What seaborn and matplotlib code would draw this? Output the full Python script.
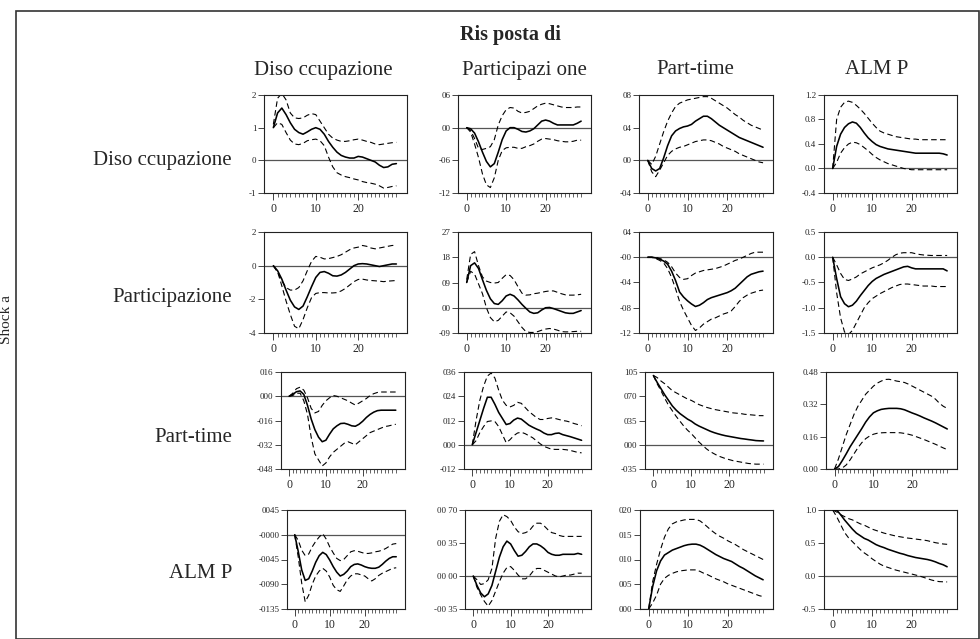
import numpy as np
import matplotlib
matplotlib.use("Agg")
import matplotlib.pyplot as plt
from matplotlib.ticker import FixedLocator, FixedFormatter
from matplotlib.patches import Rectangle
import seaborn as sns

# ========== stile ==========
sns.set_style("ticks")
plt.rcParams['font.family'] = ['Liberation Serif', 'DejaVu Serif']

# ========== dati (risposte a impulso, orizzonte 0-29) ==========
variabili_col = ["Diso ccupazione", "Participazi one", "Part-time", "ALM P"]
variabili_riga = ["Diso ccupazione", "Participazione", "Part-time", "ALM P"]

# shock Disoccupazione
dis_dis = [1.0, 1.45, 1.6, 1.4, 1.15, 0.95, 0.85, 0.8, 0.87, 0.95, 1.0, 0.95, 0.8, 0.58, 0.4,
           0.25, 0.15, 0.1, 0.07, 0.07, 0.12, 0.1, 0.05, 0.0, -0.05, -0.15, -0.22, -0.2, -0.12, -0.1]
dis_dis_su = [1.1, 1.9, 2.05, 1.85, 1.45, 1.3, 1.28, 1.3, 1.38, 1.43, 1.4, 1.2, 1.0, 0.8, 0.68,
              0.62, 0.58, 0.58, 0.6, 0.63, 0.65, 0.62, 0.58, 0.55, 0.5, 0.48, 0.5, 0.52, 0.54, 0.55]
dis_dis_giu = [1.0, 1.15, 1.1, 0.85, 0.62, 0.5, 0.48, 0.52, 0.6, 0.63, 0.65, 0.6, 0.45, 0.1, -0.2,
               -0.38, -0.45, -0.5, -0.53, -0.57, -0.6, -0.65, -0.68, -0.7, -0.73, -0.78, -0.85, -0.83, -0.8, -0.78]

dis_par = [0.0, -0.02, -0.1, -0.26, -0.45, -0.62, -0.72, -0.66, -0.45, -0.22, -0.06, 0.0, 0.0, -0.03, -0.07,
           -0.08, -0.06, -0.02, 0.05, 0.12, 0.14, 0.12, 0.08, 0.05, 0.05, 0.05, 0.05, 0.05, 0.08, 0.12]
dis_par_su = [0.0, -0.05, -0.2, -0.38, -0.4, -0.38, -0.35, -0.22, 0.05, 0.22, 0.33, 0.37, 0.36, 0.3, 0.27,
              0.28, 0.3, 0.35, 0.4, 0.43, 0.45, 0.44, 0.42, 0.4, 0.38, 0.37, 0.37, 0.37, 0.38, 0.38]
dis_par_giu = [0.0, -0.08, -0.3, -0.55, -0.85, -1.05, -1.1, -0.92, -0.6, -0.42, -0.37, -0.36, -0.36, -0.38, -0.38,
               -0.35, -0.33, -0.3, -0.25, -0.21, -0.2, -0.21, -0.22, -0.24, -0.25, -0.26, -0.26, -0.25, -0.23, -0.23]

dis_pt = [0.0, -0.01, -0.013, -0.01, 0.003, 0.018, 0.03, 0.036, 0.039, 0.041, 0.042, 0.044, 0.048, 0.051, 0.054,
          0.054, 0.051, 0.047, 0.043, 0.04, 0.037, 0.034, 0.031, 0.028, 0.026, 0.024, 0.022, 0.02, 0.018, 0.016]
dis_pt_su = [0.0, -0.005, 0.005, 0.02, 0.035, 0.048, 0.058, 0.066, 0.07, 0.072, 0.074, 0.075, 0.076, 0.077, 0.078,
             0.078, 0.076, 0.073, 0.07, 0.067, 0.064, 0.06, 0.056, 0.053, 0.049, 0.046, 0.043, 0.041, 0.039, 0.037]
dis_pt_giu = [0.0, -0.014, -0.02, -0.012, -0.003, 0.006, 0.011, 0.014, 0.016, 0.017, 0.019, 0.021, 0.023, 0.024, 0.025,
              0.025, 0.024, 0.022, 0.02, 0.017, 0.015, 0.013, 0.011, 0.008, 0.006, 0.004, 0.002, 0.0, -0.002, -0.003]

dis_almp = [0.0, 0.36, 0.56, 0.67, 0.73, 0.76, 0.74, 0.67, 0.58, 0.5, 0.44, 0.39, 0.36, 0.34, 0.32,
            0.31, 0.3, 0.29, 0.28, 0.27, 0.26, 0.25, 0.25, 0.25, 0.25, 0.25, 0.25, 0.25, 0.24, 0.22]
dis_almp_su = [0.0, 0.8, 1.0, 1.08, 1.1, 1.08, 1.03, 0.97, 0.9, 0.82, 0.74, 0.67, 0.61, 0.58, 0.56,
               0.54, 0.52, 0.51, 0.5, 0.49, 0.48, 0.48, 0.47, 0.47, 0.47, 0.47, 0.47, 0.47, 0.47, 0.47]
dis_almp_giu = [0.0, 0.1, 0.25, 0.34, 0.4, 0.43, 0.42, 0.39, 0.34, 0.29, 0.23, 0.18, 0.14, 0.11, 0.08,
                0.06, 0.04, 0.02, 0.0, -0.01, -0.02, -0.02, -0.02, -0.02, -0.02, -0.02, -0.02, -0.02, -0.02, -0.02]

# shock Participazione
par_dis = [0.0, -0.3, -0.8, -1.45, -2.05, -2.45, -2.6, -2.4, -1.85, -1.25, -0.7, -0.4, -0.35, -0.45, -0.6,
           -0.62, -0.55, -0.4, -0.2, 0.0, 0.1, 0.12, 0.1, 0.05, 0.0, -0.05, 0.0, 0.05, 0.1, 0.1]
par_dis_su = [0.0, -0.4, -0.9, -1.3, -1.45, -1.45, -1.3, -0.9, -0.3, 0.25, 0.55, 0.5, 0.4, 0.42, 0.48,
              0.55, 0.65, 0.8, 0.95, 1.05, 1.1, 1.2, 1.15, 1.05, 1.0, 1.05, 1.1, 1.15, 1.2, 1.2]
par_dis_giu = [0.0, -0.35, -1.2, -2.1, -2.9, -3.6, -3.75, -3.2, -2.5, -1.9, -1.65, -1.6, -1.6, -1.62, -1.62,
               -1.6, -1.5, -1.35, -1.15, -0.95, -0.82, -0.8, -0.85, -0.88, -0.9, -0.92, -0.95, -0.92, -0.9, -0.88]

par_par = [0.09, 0.15, 0.16, 0.14, 0.1, 0.062, 0.032, 0.015, 0.012, 0.025, 0.042, 0.048, 0.042, 0.028, 0.012,
           -0.002, -0.015, -0.02, -0.018, -0.008, 0.0, 0.001, -0.003, -0.008, -0.013, -0.018, -0.02, -0.02, -0.015, -0.01]
par_par_su = [0.1, 0.19, 0.2, 0.15, 0.11, 0.095, 0.09, 0.088, 0.09, 0.105, 0.118, 0.115, 0.1, 0.075, 0.052,
              0.045, 0.046, 0.05, 0.052, 0.055, 0.058, 0.06, 0.06, 0.055, 0.05, 0.046, 0.045, 0.045, 0.046, 0.048]
par_par_giu = [0.09, 0.13, 0.12, 0.085, 0.05, 0.0, -0.035, -0.05, -0.045, -0.03, -0.015, -0.018, -0.03, -0.05, -0.07,
               -0.085, -0.088, -0.088, -0.085, -0.08, -0.076, -0.074, -0.076, -0.08, -0.085, -0.086, -0.086, -0.085, -0.084, -0.084]

par_pt = [0.0, 0.0, -0.001, -0.003, -0.006, -0.011, -0.022, -0.037, -0.055, -0.063, -0.069, -0.074, -0.078, -0.076, -0.072,
          -0.067, -0.064, -0.062, -0.06, -0.058, -0.056, -0.053, -0.049, -0.043, -0.037, -0.031, -0.027, -0.025, -0.023, -0.022]
par_pt_su = [0.0, 0.0, 0.0, -0.002, -0.004, -0.008, -0.015, -0.025, -0.032, -0.035, -0.034, -0.029, -0.025, -0.023, -0.021,
             -0.02, -0.019, -0.018, -0.016, -0.014, -0.011, -0.008, -0.005, -0.003, 0.0, 0.003, 0.006, 0.008, 0.008, 0.008]
par_pt_giu = [0.0, 0.0, -0.002, -0.005, -0.009, -0.018, -0.032, -0.05, -0.07, -0.084, -0.096, -0.108, -0.116, -0.112, -0.106,
              -0.102, -0.098, -0.096, -0.093, -0.09, -0.088, -0.085, -0.078, -0.07, -0.064, -0.06, -0.057, -0.055, -0.053, -0.052]

par_almp = [0.0, -0.42, -0.78, -0.92, -0.98, -0.95, -0.87, -0.76, -0.66, -0.56, -0.48, -0.42, -0.38, -0.34, -0.31,
            -0.28, -0.25, -0.22, -0.19, -0.18, -0.21, -0.23, -0.23, -0.23, -0.23, -0.23, -0.23, -0.23, -0.23, -0.27]
par_almp_su = [0.0, -0.15, -0.32, -0.44, -0.46, -0.43, -0.39, -0.33, -0.29, -0.25, -0.21, -0.18, -0.15, -0.11, -0.06,
               0.0, 0.05, 0.08, 0.09, 0.09, 0.09, 0.07, 0.055, 0.045, 0.04, 0.035, 0.035, 0.035, 0.035, 0.035]
par_almp_giu = [0.0, -0.7, -1.2, -1.48, -1.53, -1.45, -1.3, -1.15, -1.0, -0.9, -0.82, -0.77, -0.72, -0.68, -0.64,
                -0.6, -0.57, -0.54, -0.53, -0.53, -0.54, -0.55, -0.56, -0.57, -0.57, -0.57, -0.58, -0.58, -0.58, -0.58]

# shock Part-time
pt_dis = [0.0, 0.012, 0.03, 0.035, 0.012, -0.06, -0.15, -0.22, -0.27, -0.3, -0.29, -0.25, -0.215, -0.195, -0.18,
          -0.178, -0.185, -0.195, -0.198, -0.185, -0.165, -0.14, -0.12, -0.105, -0.095, -0.092, -0.092, -0.092, -0.092, -0.092]
pt_dis_su = [0.0, 0.02, 0.05, 0.06, 0.04, -0.01, -0.08, -0.11, -0.1, -0.06, -0.03, -0.01, 0.005, 0.0, -0.01,
             -0.02, -0.03, -0.045, -0.058, -0.045, -0.03, -0.015, 0.005, 0.017, 0.025, 0.028, 0.028, 0.028, 0.028, 0.028]
pt_dis_giu = [0.0, 0.005, 0.02, 0.02, -0.03, -0.12, -0.27, -0.38, -0.42, -0.46, -0.44, -0.4, -0.37, -0.35, -0.33,
              -0.31, -0.3, -0.31, -0.32, -0.3, -0.28, -0.26, -0.24, -0.23, -0.22, -0.21, -0.2, -0.196, -0.19, -0.185]

pt_par = [0.0, 0.06, 0.12, 0.18, 0.235, 0.235, 0.2, 0.16, 0.13, 0.1, 0.105, 0.122, 0.132, 0.127, 0.112,
          0.097, 0.087, 0.078, 0.07, 0.058, 0.05, 0.05, 0.056, 0.058, 0.05, 0.045, 0.04, 0.034, 0.028, 0.022]
pt_par_su = [0.0, 0.12, 0.22, 0.29, 0.34, 0.355, 0.33, 0.27, 0.22, 0.195, 0.187, 0.195, 0.21, 0.205, 0.185,
             0.165, 0.15, 0.135, 0.125, 0.125, 0.13, 0.133, 0.13, 0.125, 0.12, 0.117, 0.112, 0.105, 0.1, 0.094]
pt_par_giu = [0.0, 0.02, 0.06, 0.09, 0.115, 0.118, 0.115, 0.09, 0.05, 0.01, 0.025, 0.045, 0.058, 0.062, 0.055,
              0.045, 0.035, 0.02, 0.005, -0.008, -0.015, -0.022, -0.023, -0.023, -0.023, -0.025, -0.028, -0.033, -0.038, -0.04]

pt_pt = [1.0, 0.9, 0.81, 0.72, 0.64, 0.56, 0.5, 0.45, 0.41, 0.37, 0.34, 0.3, 0.27, 0.245, 0.22,
         0.195, 0.175, 0.158, 0.143, 0.13, 0.12, 0.11, 0.1, 0.09, 0.083, 0.075, 0.068, 0.06, 0.057, 0.055]
pt_pt_su = [1.0, 0.97, 0.92, 0.88, 0.83, 0.78, 0.75, 0.72, 0.69, 0.66, 0.64, 0.61, 0.58, 0.56, 0.54,
            0.525, 0.51, 0.5, 0.49, 0.48, 0.47, 0.46, 0.455, 0.45, 0.44, 0.435, 0.43, 0.425, 0.42, 0.42]
pt_pt_giu = [1.0, 0.88, 0.78, 0.67, 0.57, 0.49, 0.41, 0.34, 0.27, 0.21, 0.16, 0.1, 0.04, -0.01, -0.06,
             -0.1, -0.13, -0.16, -0.18, -0.2, -0.215, -0.23, -0.24, -0.25, -0.26, -0.27, -0.275, -0.28, -0.28, -0.28]

pt_almp = [0.0, 0.012, 0.042, 0.075, 0.11, 0.14, 0.17, 0.2, 0.232, 0.258, 0.278, 0.288, 0.295, 0.298, 0.3,
           0.3, 0.3, 0.298, 0.293, 0.285, 0.277, 0.27, 0.262, 0.253, 0.245, 0.237, 0.228, 0.218, 0.208, 0.198]
pt_almp_su = [0.0, 0.05, 0.11, 0.17, 0.22, 0.27, 0.31, 0.34, 0.37, 0.39, 0.41, 0.425, 0.435, 0.443, 0.444,
              0.44, 0.435, 0.432, 0.428, 0.42, 0.41, 0.4, 0.39, 0.38, 0.37, 0.36, 0.345, 0.325, 0.31, 0.3]
pt_almp_giu = [0.0, 0.0, 0.005, 0.02, 0.045, 0.075, 0.105, 0.13, 0.15, 0.163, 0.172, 0.177, 0.179, 0.18, 0.18,
               0.18, 0.18, 0.179, 0.176, 0.172, 0.167, 0.16, 0.153, 0.146, 0.138, 0.13, 0.122, 0.113, 0.104, 0.096]

# shock ALMP
almp_dis = [0.0, -0.03, -0.064, -0.083, -0.08, -0.066, -0.05, -0.038, -0.032, -0.036, -0.046, -0.058, -0.068, -0.075, -0.072,
            -0.066, -0.058, -0.054, -0.053, -0.055, -0.058, -0.06, -0.061, -0.061, -0.059, -0.054, -0.048, -0.043, -0.04, -0.04]
almp_dis_su = [0.0, -0.01, -0.028, -0.038, -0.035, -0.022, -0.012, -0.004, 0.002, -0.008, -0.022, -0.033, -0.043, -0.047, -0.045,
               -0.038, -0.031, -0.029, -0.03, -0.032, -0.034, -0.034, -0.033, -0.031, -0.03, -0.028, -0.025, -0.021, -0.017, -0.016]
almp_dis_giu = [0.0, -0.04, -0.088, -0.122, -0.11, -0.09, -0.075, -0.066, -0.061, -0.066, -0.077, -0.092, -0.1, -0.103, -0.093,
                -0.082, -0.075, -0.071, -0.071, -0.073, -0.075, -0.08, -0.084, -0.08, -0.074, -0.07, -0.067, -0.064, -0.061, -0.06]

almp_par = [0.0, -0.01, -0.018, -0.022, -0.019, -0.01, 0.005, 0.02, 0.031, 0.037, 0.034, 0.027, 0.021, 0.022, 0.026,
            0.031, 0.034, 0.034, 0.032, 0.029, 0.025, 0.023, 0.022, 0.022, 0.023, 0.023, 0.023, 0.023, 0.024, 0.023]
almp_par_su = [0.0, -0.004, -0.009, -0.008, -0.004, 0.008, 0.04, 0.058, 0.065, 0.063, 0.059, 0.052, 0.047, 0.045, 0.046,
               0.048, 0.053, 0.056, 0.056, 0.053, 0.049, 0.046, 0.045, 0.043, 0.042, 0.042, 0.042, 0.042, 0.042, 0.042]
almp_par_giu = [0.0, -0.012, -0.02, -0.027, -0.032, -0.026, -0.016, -0.006, 0.003, 0.009, 0.01, 0.006, 0.001, -0.003, -0.003,
                0.0, 0.005, 0.008, 0.008, 0.006, 0.004, 0.002, 0.0, -0.001, 0.0, 0.001, 0.001, 0.002, 0.003, 0.003]

almp_pt = [0.0, 0.045, 0.077, 0.097, 0.109, 0.114, 0.119, 0.122, 0.125, 0.128, 0.13, 0.131, 0.131, 0.129, 0.125,
           0.12, 0.115, 0.11, 0.106, 0.102, 0.099, 0.096, 0.091, 0.086, 0.082, 0.077, 0.072, 0.067, 0.063, 0.059]
almp_pt_su = [0.0, 0.055, 0.09, 0.12, 0.145, 0.162, 0.172, 0.176, 0.178, 0.18, 0.181, 0.181, 0.181, 0.178, 0.172,
              0.165, 0.158, 0.152, 0.147, 0.143, 0.138, 0.134, 0.13, 0.125, 0.12, 0.116, 0.112, 0.108, 0.104, 0.1]
almp_pt_giu = [0.0, 0.012, 0.028, 0.05, 0.062, 0.068, 0.072, 0.075, 0.077, 0.078, 0.079, 0.079, 0.079, 0.076, 0.072,
               0.069, 0.065, 0.061, 0.058, 0.055, 0.051, 0.048, 0.045, 0.042, 0.039, 0.036, 0.033, 0.03, 0.027, 0.025]

almp_almp = [1.0, 1.0, 0.93, 0.85, 0.78, 0.71, 0.65, 0.61, 0.57, 0.545, 0.51, 0.475, 0.45, 0.43, 0.405,
             0.385, 0.365, 0.345, 0.33, 0.31, 0.295, 0.28, 0.27, 0.26, 0.25, 0.235, 0.215, 0.19, 0.17, 0.14]
almp_almp_su = [1.0, 0.97, 0.93, 0.9, 0.87, 0.85, 0.82, 0.79, 0.77, 0.74, 0.71, 0.69, 0.67, 0.65, 0.635,
                0.62, 0.605, 0.595, 0.585, 0.575, 0.568, 0.56, 0.552, 0.545, 0.535, 0.52, 0.505, 0.495, 0.485, 0.48]
almp_almp_giu = [1.0, 0.9, 0.78, 0.66, 0.58, 0.52, 0.46, 0.4, 0.35, 0.31, 0.26, 0.22, 0.18, 0.15, 0.13,
                 0.11, 0.09, 0.075, 0.06, 0.045, 0.03, 0.015, 0.0, -0.02, -0.04, -0.06, -0.075, -0.085, -0.088, -0.09]

# tick dell'asse y (valori ed etichette come nel grafico originale)
yt_dis_dis = [2, 1, 0, -1];                        yl_dis_dis = ["2", "1", "0", "-1"]
yt_dis_par = [0.6, 0.0, -0.6, -1.2];               yl_dis_par = ["06", "00", "-06", "-12"]
yt_dis_pt = [0.08, 0.04, 0.0, -0.04];              yl_dis_pt = ["08", "04", "00", "-04"]
yt_dis_almp = [1.2, 0.8, 0.4, 0.0, -0.4];          yl_dis_almp = ["1.2", "0.8", "0.4", "0.0", "-0.4"]
yt_par_dis = [2, 0, -2, -4];                       yl_par_dis = ["2", "0", "-2", "-4"]
yt_par_par = [0.27, 0.18, 0.09, 0.0, -0.09];       yl_par_par = ["27", "18", "09", "00", "-09"]
yt_par_pt = [0.04, 0.0, -0.04, -0.08, -0.12];      yl_par_pt = ["04", "-00", "-04", "-08", "-12"]
yt_par_almp = [0.5, 0.0, -0.5, -1.0, -1.5];        yl_par_almp = ["0.5", "0.0", "-0.5", "-1.0", "-1.5"]
yt_pt_dis = [0.16, 0.0, -0.16, -0.32, -0.48];      yl_pt_dis = ["016", "000", "-016", "-032", "-048"]
yt_pt_par = [0.36, 0.24, 0.12, 0.0, -0.12];        yl_pt_par = ["036", "024", "012", "000", "-012"]
yt_pt_pt = [1.05, 0.70, 0.35, 0.0, -0.35];         yl_pt_pt = ["105", "070", "035", "000", "-035"]
yt_pt_almp = [0.48, 0.32, 0.16, 0.0];              yl_pt_almp = ["0.48", "0.32", "0.16", "0.00"]
yt_almp_dis = [0.045, 0.0, -0.045, -0.090, -0.135]; yl_almp_dis = ["0045", "-0000", "-0045", "-0090", "-0135"]
yt_almp_par = [0.070, 0.035, 0.0, -0.035];         yl_almp_par = ["00 70", "00 35", "00 00", "-00 35"]
yt_almp_pt = [0.20, 0.15, 0.10, 0.05, 0.0];        yl_almp_pt = ["020", "015", "010", "005", "000"]
yt_almp_almp = [1.0, 0.5, 0.0, -0.5];              yl_almp_almp = ["1.0", "0.5", "0.0", "-0.5"]

xt_maggiori = [0, 10, 20]
xl_maggiori = ["0", "10", "20"]

# tabella dei pannelli: (centrale, banda sup, banda inf, yticks, ylabels)
pannelli = [
    [(dis_dis, dis_dis_su, dis_dis_giu, yt_dis_dis, yl_dis_dis),
     (dis_par, dis_par_su, dis_par_giu, yt_dis_par, yl_dis_par),
     (dis_pt, dis_pt_su, dis_pt_giu, yt_dis_pt, yl_dis_pt),
     (dis_almp, dis_almp_su, dis_almp_giu, yt_dis_almp, yl_dis_almp)],
    [(par_dis, par_dis_su, par_dis_giu, yt_par_dis, yl_par_dis),
     (par_par, par_par_su, par_par_giu, yt_par_par, yl_par_par),
     (par_pt, par_pt_su, par_pt_giu, yt_par_pt, yl_par_pt),
     (par_almp, par_almp_su, par_almp_giu, yt_par_almp, yl_par_almp)],
    [(pt_dis, pt_dis_su, pt_dis_giu, yt_pt_dis, yl_pt_dis),
     (pt_par, pt_par_su, pt_par_giu, yt_pt_par, yl_pt_par),
     (pt_pt, pt_pt_su, pt_pt_giu, yt_pt_pt, yl_pt_pt),
     (pt_almp, pt_almp_su, pt_almp_giu, yt_pt_almp, yl_pt_almp)],
    [(almp_dis, almp_dis_su, almp_dis_giu, yt_almp_dis, yl_almp_dis),
     (almp_par, almp_par_su, almp_par_giu, yt_almp_par, yl_almp_par),
     (almp_pt, almp_pt_su, almp_pt_giu, yt_almp_pt, yl_almp_pt),
     (almp_almp, almp_almp_su, almp_almp_giu, yt_almp_almp, yl_almp_almp)],
]

# ========== layout (pixel) ==========
W, H = 980, 639
righe_px = [(95, 193), (232, 333), (372, 469), (510, 609)]
colonne_px = [
    [(264, 407), (458, 591), (639, 773), (824, 957)],
    [(264, 407), (458, 591), (639, 773), (824, 957)],
    [(281, 405), (464, 591), (645, 773), (826, 957)],
    [(287, 405), (465, 591), (640, 773), (824, 957)],
]

fig = plt.figure(figsize=(W / 100, H / 100), dpi=100)

# cornice esterna
fig.add_artist(Rectangle((16 / W, 0), (979 - 16) / W, 1 - 11 / H, transform=fig.transFigure,
                         fill=False, edgecolor='#333333', linewidth=1.2))

fig.text(510 / W, 1 - 35 / H, "Ris posta di", ha='center', va='center',
         fontsize=14.5, fontweight='bold')
for x_c, nome in zip([323, 524, 695, 877], variabili_col):
    fig.text(x_c / W, 1 - 70 / H, nome, ha='center', va='center', fontsize=15)
for y_c, nome in zip([160, 297, 437, 574], variabili_riga):
    fig.text(232 / W, 1 - y_c / H, nome, ha='right', va='center', fontsize=15)
# etichetta verticale a sinistra della cornice
fig.text(7 / W, 1 - 320 / H, "Shock a", rotation=90, ha='center', va='center', fontsize=11)

tratteggio = (0, (5, 3))
for i in range(4):
    top, bot = righe_px[i]
    for j in range(4):
        l, r = colonne_px[i][j]
        ax = fig.add_axes([l / W, 1 - bot / H, (r - l) / W, (bot - top) / H])
        centrale, su, giu, yt, yl = pannelli[i][j]
        t = np.arange(len(centrale))

        ax.axhline(0, color='#555555', linewidth=0.9, zorder=1)
        sns.lineplot(x=t, y=centrale, ax=ax, color='black', linewidth=1.15, zorder=3)
        sns.lineplot(x=np.arange(len(su)), y=su, ax=ax, color='black', linewidth=0.8,
                     linestyle=tratteggio, zorder=2)
        sns.lineplot(x=np.arange(len(giu)), y=giu, ax=ax, color='black', linewidth=0.8,
                     linestyle=tratteggio, zorder=2)

        ax.set_xlim(-2.2, 31.5)
        ax.set_ylim(min(yt), max(yt))
        ax.yaxis.set_major_locator(FixedLocator(yt))
        ax.yaxis.set_major_formatter(FixedFormatter(yl))
        ax.xaxis.set_major_locator(FixedLocator(xt_maggiori))
        ax.xaxis.set_major_formatter(FixedFormatter(xl_maggiori))
        ax.xaxis.set_minor_locator(FixedLocator(list(range(0, 30))))
        ax.tick_params(axis='y', direction='out', length=4, width=0.6, labelsize=6.5, pad=1.5)
        ax.tick_params(axis='x', which='major', direction='out', length=5, width=0.6,
                       labelsize=8.5, pad=2)
        ax.tick_params(axis='x', which='minor', direction='out', length=3, width=0.5)
        for s in ax.spines.values():
            s.set_visible(True)
            s.set_linewidth(0.8)
            s.set_color('#222222')
        ax.set_xlabel("")
        ax.set_ylabel("")

fig.savefig("out.png", dpi=100)
